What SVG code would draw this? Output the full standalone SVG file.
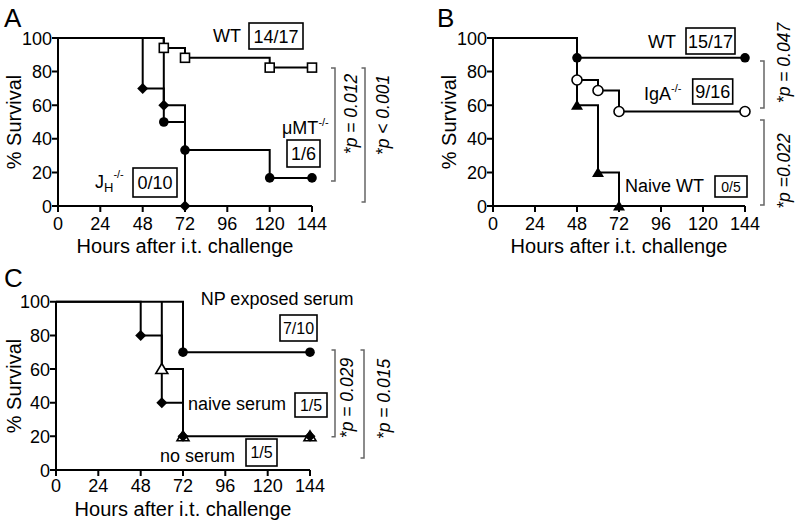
<svg xmlns="http://www.w3.org/2000/svg" width="800" height="528" viewBox="0 0 800 528">
<style>
text{font-family:"Liberation Sans",Arial,sans-serif;fill:#000}
.panel{font-size:26px}
.tick{font-size:18px}
.ytick{font-size:18px;text-anchor:end}
.xtick{font-size:18px;text-anchor:middle}
.title{font-size:20px;text-anchor:middle}
.lab{font-size:18px}
.sup{font-size:11px}
.cnt{text-anchor:middle}
.pv{font-size:17.5px;font-style:italic;text-anchor:middle}
.axis{stroke:#000;stroke-width:2;fill:none}
.curve{stroke:#000;stroke-width:2;fill:none}
.box{stroke:#000;stroke-width:1.6;fill:#fff}
.br{stroke:#666;stroke-width:1.5;fill:none}
.fc{fill:#000}
.oc{fill:#fff;stroke:#000;stroke-width:1.6}
</style>
<defs>
<rect id="sq" x="-4.5" y="-4.5" width="9" height="9" class="oc"/>
<circle id="cf" r="4.8" class="fc"/>
<circle id="co" r="5" class="oc"/>
<path id="dm" d="M0,-5.5 L5.5,0 L0,5.5 L-5.5,0 Z" class="fc"/>
<path id="tf" d="M0,-5.5 L6,4.5 L-6,4.5 Z" class="fc"/>
<path id="to" d="M0,-5.5 L6,4.5 L-6,4.5 Z" class="oc"/>
</defs>

<!-- Panel A -->
<g id="panelA">
<text class="panel" x="4" y="27">A</text>
<g id="axesA">
<path class="axis" d="M58,38 V206 H312"/>
<path class="axis" d="M52,38H58M52,71.6H58M52,105.2H58M52,138.8H58M52,172.4H58M52,206H58 M58,206V212M100.3,206V212M142.7,206V212M185,206V212M227.3,206V212M269.7,206V212M312,206V212"/>
<text class="ytick" x="52" y="44.5">100</text>
<text class="ytick" x="52" y="78">80</text>
<text class="ytick" x="52" y="111.7">60</text>
<text class="ytick" x="52" y="145.3">40</text>
<text class="ytick" x="52" y="178.9">20</text>
<text class="ytick" x="52" y="212.5">0</text>
<text class="xtick" x="58" y="230">0</text>
<text class="xtick" x="100.3" y="230">24</text>
<text class="xtick" x="142.7" y="230">48</text>
<text class="xtick" x="185" y="230">72</text>
<text class="xtick" x="227.3" y="230">96</text>
<text class="xtick" x="269.7" y="230">120</text>
<text class="xtick" x="312" y="230">144</text>
<text class="title" x="185" y="253">Hours after i.t. challenge</text>
<text class="title" transform="translate(21,122) rotate(-90)">% Survival</text>
</g>
<g id="connectorsA">
<path class="curve" d="M58,38 H142.7 V88.4 H163.8 V105.2 H185 V206"/>
<path class="curve" d="M58,38 H163.8 V122 H185 V150.1 H269.7 V177.9 H312"/>
<path class="curve" d="M163.8,38 V47.9 H185 V57.8 H269.7 V67.6 H312"/>
<path class="br" d="M331,68 H335 V181 H331"/>
<path class="br" d="M361.5,68 H365 V202 H361.5"/>
</g>
<g id="markersA">
<use href="#sq" x="163.8" y="47.9"/><use href="#sq" x="185" y="57.8"/><use href="#sq" x="269.7" y="67.6"/><use href="#sq" x="312" y="67.6"/>
<use href="#cf" x="163.8" y="122"/><use href="#cf" x="185" y="150.1"/><use href="#cf" x="269.7" y="177.9"/><use href="#cf" x="312" y="177.9"/>
<use href="#dm" x="142.7" y="88.4"/><use href="#dm" x="163.8" y="105.2"/><use href="#dm" x="185" y="206"/>
</g>
<g id="labelWT_A">
<text class="lab" x="213" y="42">WT</text>
<rect class="box" x="249" y="23" width="54" height="26"/>
<text class="lab cnt" x="276" y="42.5">14/17</text>
</g>
<g id="labelMuMT">
<text class="lab" x="282" y="134">μMT<tspan class="sup" dy="-8">-/-</tspan></text>
<rect class="box" x="287" y="140" width="33" height="27"/>
<text class="lab cnt" x="303.5" y="160">1/6</text>
</g>
<g id="labelJH">
<text class="lab" x="95" y="188">J<tspan font-size="13" dy="4">H</tspan><tspan class="sup" dy="-14">-/-</tspan></text>
<rect class="box" x="133" y="168" width="44" height="29"/>
<text class="lab cnt" x="155" y="189">0/10</text>
</g>
<text class="pv" transform="translate(357,114) rotate(-90)">*p = 0.012</text>
<text class="pv" transform="translate(389,115) rotate(-90)">*p &lt; 0.001</text>
</g>

<!-- Panel B -->
<g id="panelB">
<text class="panel" x="437" y="27">B</text>
<g id="axesB">
<path class="axis" d="M493,38 V206 H745"/>
<path class="axis" d="M487,38H493M487,71.6H493M487,105.2H493M487,138.8H493M487,172.4H493M487,206H493 M493,206V212M535,206V212M577,206V212M619,206V212M661,206V212M703,206V212M745,206V212"/>
<text class="ytick" x="487" y="44.5">100</text>
<text class="ytick" x="487" y="78">80</text>
<text class="ytick" x="487" y="111.7">60</text>
<text class="ytick" x="487" y="145.3">40</text>
<text class="ytick" x="487" y="178.9">20</text>
<text class="ytick" x="487" y="212.5">0</text>
<text class="xtick" x="493" y="230">0</text>
<text class="xtick" x="535" y="230">24</text>
<text class="xtick" x="577" y="230">48</text>
<text class="xtick" x="619" y="230">72</text>
<text class="xtick" x="661" y="230">96</text>
<text class="xtick" x="703" y="230">120</text>
<text class="xtick" x="745" y="230">144</text>
<text class="title" x="619" y="253">Hours after i.t. challenge</text>
<text class="title" transform="translate(456,122) rotate(-90)">% Survival</text>
</g>
<g id="connectorsB">
<path class="curve" d="M493,38 H577 V57.8 H745"/>
<path class="curve" d="M577,57.8 V80 H598 V90.5 H619 V111.5 H745"/>
<path class="curve" d="M577,80 V105.2 H598 V172.4 H619 V206"/>
<path class="br" d="M760,61 H764 V108 H760"/>
<path class="br" d="M760,120 H764 V205 H760"/>
</g>
<g id="markersB">
<use href="#cf" x="577" y="57.8"/><use href="#cf" x="745" y="57.8"/>
<use href="#co" x="577" y="80"/><use href="#co" x="598" y="90.5"/><use href="#co" x="619" y="111.5"/><use href="#co" x="745" y="111.5"/>
<use href="#tf" x="577" y="105.2"/><use href="#tf" x="598" y="172.4"/><use href="#tf" x="619" y="206"/>
</g>
<g id="labelWT_B">
<text class="lab" x="648" y="48">WT</text>
<rect class="box" x="686" y="28" width="49" height="26"/>
<text class="lab cnt" x="710.5" y="47.5">15/17</text>
</g>
<g id="labelIgA">
<text class="lab" x="644" y="100">IgA<tspan class="sup" dy="-8">-/-</tspan></text>
<rect class="box" x="692.7" y="79" width="40" height="25"/>
<text class="lab cnt" x="712.7" y="98">9/16</text>
</g>
<g id="labelNaiveWT">
<text class="lab" x="625" y="191.7">Naive WT</text>
<rect class="box" x="715" y="176" width="32" height="21"/>
<text class="cnt" font-size="14" x="731" y="191.5">0/5</text>
</g>
<text class="pv" transform="translate(790,63) rotate(-90)">*p = 0.047</text>
<text class="pv" transform="translate(790,171) rotate(-90)">*p =0.022</text>
</g>

<!-- Panel C -->
<g id="panelC">
<text class="panel" x="4" y="287">C</text>
<g id="axesC">
<path class="axis" d="M56,301.7 V470 H310"/>
<path class="axis" d="M50,301.7H56M50,335.4H56M50,369H56M50,402.7H56M50,436.3H56M50,470H56 M56,470V476M98.3,470V476M140.7,470V476M183,470V476M225.3,470V476M267.7,470V476M310,470V476"/>
<text class="ytick" x="50" y="308.2">100</text>
<text class="ytick" x="50" y="341.9">80</text>
<text class="ytick" x="50" y="375.5">60</text>
<text class="ytick" x="50" y="409.2">40</text>
<text class="ytick" x="50" y="442.8">20</text>
<text class="ytick" x="50" y="476.5">0</text>
<text class="xtick" x="56" y="492">0</text>
<text class="xtick" x="98.3" y="492">24</text>
<text class="xtick" x="140.7" y="492">48</text>
<text class="xtick" x="183" y="492">72</text>
<text class="xtick" x="225.3" y="492">96</text>
<text class="xtick" x="267.7" y="492">120</text>
<text class="xtick" x="310" y="492">144</text>
<text class="title" x="183" y="516">Hours after i.t. challenge</text>
<text class="title" transform="translate(21,386) rotate(-90)">% Survival</text>
</g>
<g id="connectorsC">
<path class="curve" d="M56,301.7 H183 V352.2 H310"/>
<path class="curve" d="M56,301.7 H140.7 V335.4 H161.8 V402.7 H183 V436.3 H310"/>
<path class="curve" d="M161.8,301.7 V369 H183 V436.3"/>
<path class="br" d="M331.5,350 H335 V436.7 H331.5"/>
<path class="br" d="M360.5,350 H364 V458 H360.5"/>
</g>
<g id="markersC">
<use href="#cf" x="183" y="352.2"/><use href="#cf" x="310" y="352.2"/>
<use href="#to" x="161.8" y="369"/><use href="#to" x="183" y="436.3"/><use href="#to" x="310" y="436.3"/>
<use href="#dm" x="140.7" y="335.4"/><use href="#dm" x="161.8" y="402.7"/><use href="#dm" x="183" y="436.3"/><use href="#dm" x="310" y="436.3"/>
</g>
<g id="labelNP">
<text class="lab" x="200.7" y="305">NP exposed serum</text>
<rect class="box" x="280" y="315" width="37" height="26"/>
<text class="cnt" font-size="16" x="298.5" y="333.5">7/10</text>
</g>
<g id="labelNaiveSerum">
<text class="lab" x="188" y="410">naive serum</text>
<rect class="box" x="295" y="393" width="32" height="24"/>
<text class="cnt" font-size="16" x="311" y="411">1/5</text>
</g>
<g id="labelNoSerum">
<text class="lab" x="160" y="462">no serum</text>
<rect class="box" x="246" y="439" width="31" height="27"/>
<text class="cnt" font-size="16" x="261.5" y="458">1/5</text>
</g>
<text class="pv" transform="translate(353,398) rotate(-90)">*p = 0.029</text>
<text class="pv" transform="translate(390,399) rotate(-90)">*p = 0.015</text>
</g>
</svg>
